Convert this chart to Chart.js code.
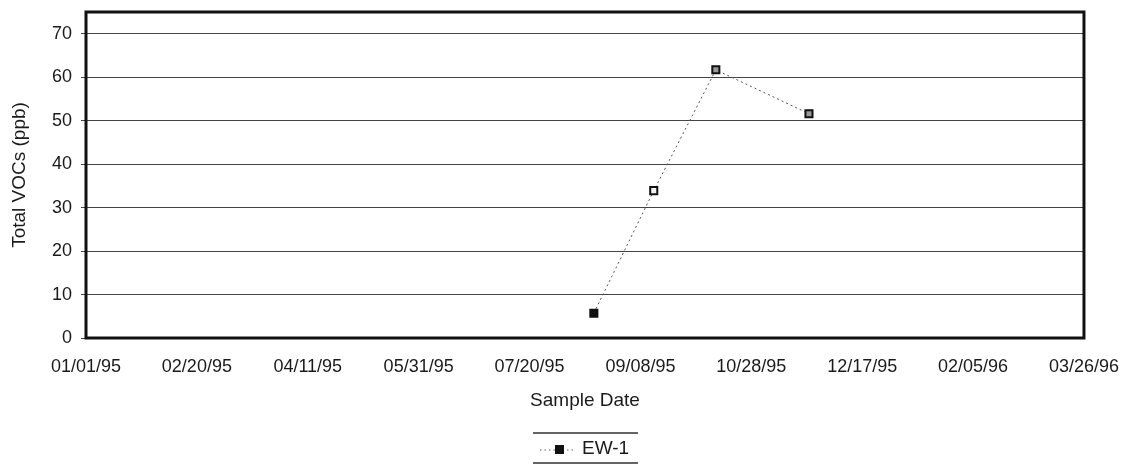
<!DOCTYPE html>
<html>
<head>
<meta charset="utf-8">
<script src="https://cdn.jsdelivr.net/npm/chart.js@4"></script>
<style>
  html, body { margin: 0; padding: 0; background: #fff; }
  #wrap { position: relative; width: 1129px; height: 465px; }
</style>
</head>
<body>
<div id="wrap"><canvas id="c" width="1129" height="465"></canvas></div>
<script>
// ---- Data ----
const seriesLabel = 'EW-1';
const sampleDates = ['08/18/95', '09/14/95', '10/12/95', '11/23/95'];
const ew1Values = [5.7, 33.9, 61.7, 51.6];
const xTickLabels = ['01/01/95', '02/20/95', '04/11/95', '05/31/95', '07/20/95', '09/08/95', '10/28/95', '12/17/95', '02/05/96', '03/26/96'];
const yTickValues = [0, 10, 20, 30, 40, 50, 60, 70];
const yAxisMax = 75;
const xTitle = 'Sample Date';
const yTitle = 'Total VOCs (ppb)';

// ---- helpers ----
function toDay(s) {
  const [mm, dd, yy] = s.split('/').map(Number);
  return Date.UTC(1900 + yy, mm - 1, dd) / 86400000;
}
function fmtDay(v) {
  const d = new Date(v * 86400000);
  const p = n => String(n).padStart(2, '0');
  return p(d.getUTCMonth() + 1) + '/' + p(d.getUTCDate()) + '/' + p(d.getUTCFullYear() % 100);
}

const FONT = "'Liberation Sans', Arial, sans-serif";
const TXT = '#1a1a1a';

const points = sampleDates.map((d, i) => ({ x: toDay(d), y: ew1Values[i] }));

const framePlugin = {
  id: 'frame',
  afterDatasetsDraw(chart) {
    const { ctx, chartArea: a } = chart;
    ctx.save();
    ctx.strokeStyle = '#111';
    ctx.lineWidth = 3;
    ctx.strokeRect(a.left, a.top, a.right - a.left, a.bottom - a.top);
    ctx.restore();
  }
};

const legendPlugin = {
  id: 'customLegend',
  afterDraw(chart) {
    const { ctx } = chart;
    const ds = chart.data.datasets[0];
    const cx = (chart.chartArea.left + chart.chartArea.right) / 2;
    const y = 449;
    ctx.save();
    ctx.strokeStyle = '#333';
    ctx.lineWidth = 1.5;
    ctx.beginPath();
    ctx.moveTo(cx - 52, 433); ctx.lineTo(cx + 53, 433);
    ctx.moveTo(cx - 52, 463); ctx.lineTo(cx + 53, 463);
    ctx.stroke();
    // dotted sample line
    ctx.strokeStyle = '#666';
    ctx.lineWidth = 1;
    ctx.setLineDash([1.5, 3]);
    ctx.beginPath();
    ctx.moveTo(cx - 45, y + 1); ctx.lineTo(cx - 12, y + 1);
    ctx.stroke();
    ctx.setLineDash([]);
    ctx.fillStyle = '#111';
    ctx.fillRect(cx - 30, y - 4, 9, 9);
    ctx.fillStyle = TXT;
    ctx.font = '19px ' + FONT;
    ctx.textBaseline = 'middle';
    ctx.textAlign = 'left';
    ctx.fillText(ds.label, cx - 3, y);
    ctx.restore();
  }
};

new Chart(document.getElementById('c'), {
  type: 'scatter',
  data: {
    datasets: [{
      label: seriesLabel,
      data: points,
      showLine: true,
      borderColor: '#555',
      borderWidth: 1,
      borderDash: [2, 3],
      pointStyle: 'rect',
      pointRadius: 5,
      pointHoverRadius: 5,
      pointBorderColor: '#111',
      pointBorderWidth: 2,
      pointBackgroundColor: ['#111', '#f0f0f0', '#999', '#999']
    }]
  },
  options: {
    responsive: false,
    animation: false,
    devicePixelRatio: 1,
    layout: { padding: { left: 0, right: 38, top: 12, bottom: 53 } },
    plugins: {
      legend: { display: false },
      tooltip: { enabled: false }
    },
    scales: {
      x: {
        type: 'linear',
        min: toDay(xTickLabels[0]),
        max: toDay(xTickLabels[xTickLabels.length - 1]),
        grid: { display: false },
        border: { display: false },
        afterBuildTicks(scale) {
          scale.ticks = xTickLabels.map(s => ({ value: toDay(s) }));
        },
        afterFit(scale) { scale.height = 74; },
        ticks: {
          autoSkip: false,
          maxRotation: 0,
          padding: 10,
          color: TXT,
          font: { family: FONT, size: 18 },
          callback: v => fmtDay(v)
        },
        title: {
          display: true,
          text: xTitle,
          color: TXT,
          font: { family: FONT, size: 19 },
          padding: { top: 0, bottom: 0 }
        }
      },
      y: {
        min: 0,
        max: yAxisMax,
        afterBuildTicks(scale) {
          scale.ticks = yTickValues.map(v => ({ value: v }));
        },
        afterFit(scale) {
          scale.width = 86;
          scale.paddingTop = 0;
          scale.paddingBottom = 0;
        },
        grid: { color: '#444', lineWidth: 1, tickLength: 5, tickColor: '#444' },
        border: { display: false },
        ticks: {
          padding: 9,
          color: TXT,
          font: { family: FONT, size: 18 }
        },
        title: {
          display: true,
          text: yTitle,
          color: TXT,
          font: { family: FONT, size: 19 },
          padding: { top: 8, bottom: 0 }
        }
      }
    }
  },
  plugins: [framePlugin, legendPlugin]
});
</script>
</body>
</html>
